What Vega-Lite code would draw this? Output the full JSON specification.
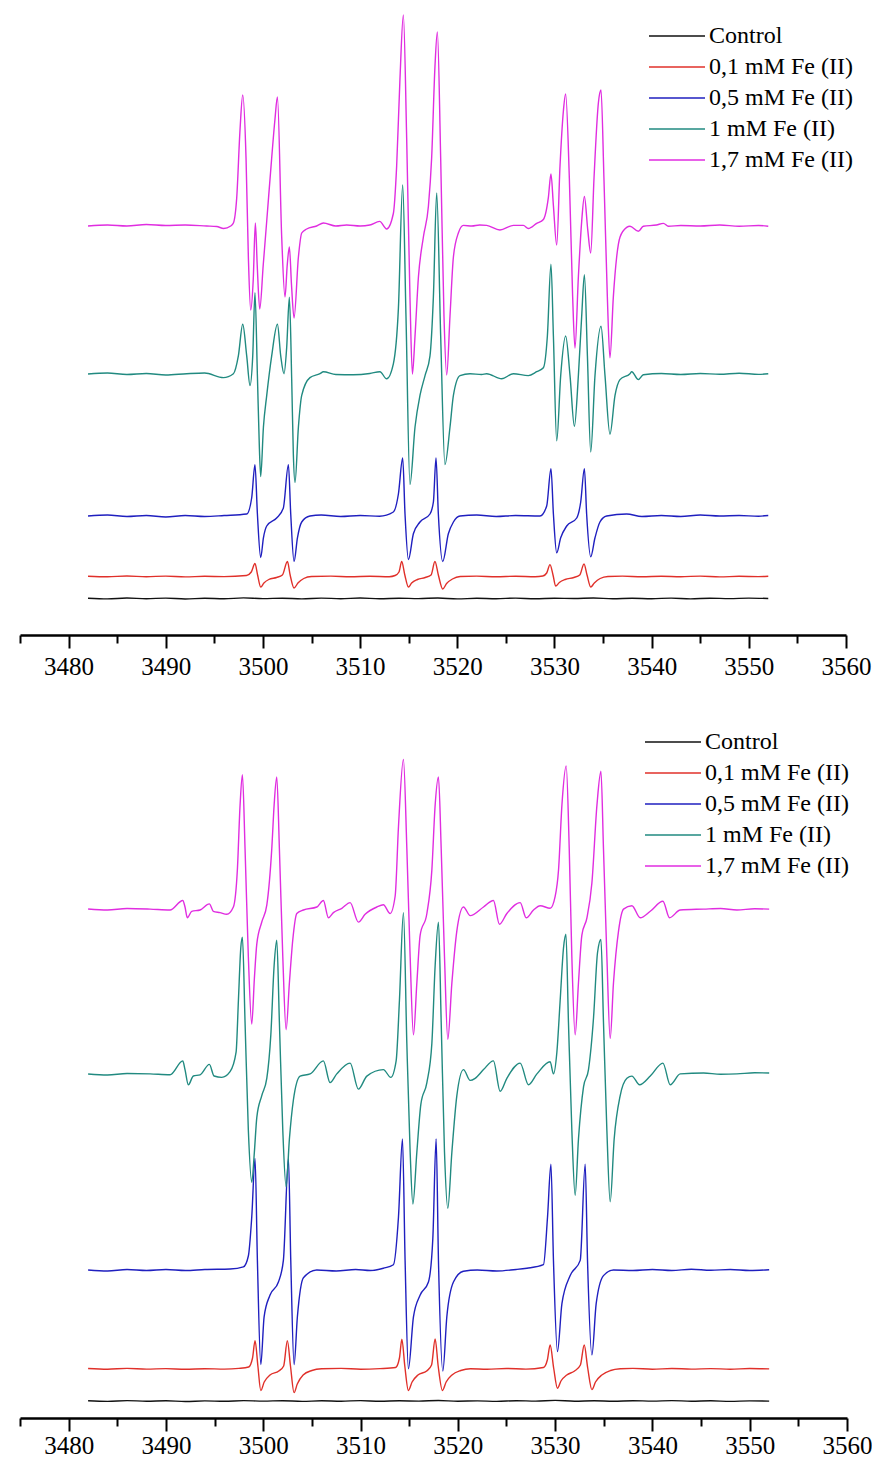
{
  "$schema": "https://vega.github.io/schema/vega-lite/v6.json",
  "background": "white",
  "padding": {"left": 13, "top": 0, "right": 0, "bottom": 0},
  "config": {"view": {"stroke": null}, "font": "Liberation Serif"},
  "spacing": 21,
  "align": "none",
  "resolve": {"legend": {"color": "independent"}, "scale": {"x": "independent", "y": "independent"}},
  "datasets": {
    "top": [
      {"s":"Control","x":3482,"y":36.8},{"s":"Control","x":3484,"y":36.1},{"s":"Control","x":3486,"y":37},{"s":"Control","x":3488,"y":36.3},{"s":"Control","x":3490,"y":36.9},{"s":"Control","x":3492,"y":36},{"s":"Control","x":3494,"y":36.7},{"s":"Control","x":3496,"y":36.2},{"s":"Control","x":3498,"y":37.1},{"s":"Control","x":3500,"y":36.4},{"s":"Control","x":3502,"y":36.8},{"s":"Control","x":3504,"y":36.1},{"s":"Control","x":3506,"y":36.9},{"s":"Control","x":3508,"y":36.3},{"s":"Control","x":3510,"y":37},{"s":"Control","x":3512,"y":36.2},{"s":"Control","x":3514,"y":36.8},{"s":"Control","x":3516,"y":36.4},{"s":"Control","x":3518,"y":37},{"s":"Control","x":3520,"y":36.1},{"s":"Control","x":3522,"y":36.7},{"s":"Control","x":3524,"y":36.3},{"s":"Control","x":3526,"y":36.9},{"s":"Control","x":3528,"y":36.2},{"s":"Control","x":3530,"y":36.8},{"s":"Control","x":3532,"y":36.5},{"s":"Control","x":3534,"y":37},{"s":"Control","x":3536,"y":36.2},{"s":"Control","x":3538,"y":36.7},{"s":"Control","x":3540,"y":36.3},{"s":"Control","x":3542,"y":36.9},{"s":"Control","x":3544,"y":36.1},{"s":"Control","x":3546,"y":36.8},{"s":"Control","x":3548,"y":36.4},{"s":"Control","x":3550,"y":36.9},{"s":"Control","x":3552,"y":36.5},

      {"s":"0,1 mM Fe (II)","x":3482,"y":58.8},{"s":"0,1 mM Fe (II)","x":3484,"y":58.2},{"s":"0,1 mM Fe (II)","x":3486,"y":59},{"s":"0,1 mM Fe (II)","x":3488,"y":58.3},{"s":"0,1 mM Fe (II)","x":3490,"y":58.9},{"s":"0,1 mM Fe (II)","x":3492,"y":58.1},{"s":"0,1 mM Fe (II)","x":3494,"y":58.7},{"s":"0,1 mM Fe (II)","x":3496,"y":58.4},{"s":"0,1 mM Fe (II)","x":3498.3,"y":59.5},{"s":"0,1 mM Fe (II)","x":3498.8,"y":63},{"s":"0,1 mM Fe (II)","x":3499.18,"y":71.5},{"s":"0,1 mM Fe (II)","x":3499.45,"y":60},{"s":"0,1 mM Fe (II)","x":3499.77,"y":48},{"s":"0,1 mM Fe (II)","x":3500.1,"y":52},{"s":"0,1 mM Fe (II)","x":3500.6,"y":55.5},{"s":"0,1 mM Fe (II)","x":3501.4,"y":57.5},{"s":"0,1 mM Fe (II)","x":3502.0,"y":60},{"s":"0,1 mM Fe (II)","x":3502.52,"y":73.5},{"s":"0,1 mM Fe (II)","x":3502.8,"y":60},{"s":"0,1 mM Fe (II)","x":3503.2,"y":47},{"s":"0,1 mM Fe (II)","x":3503.6,"y":52},{"s":"0,1 mM Fe (II)","x":3504.2,"y":56.5},{"s":"0,1 mM Fe (II)","x":3505,"y":58.5},{"s":"0,1 mM Fe (II)","x":3507,"y":58.9},{"s":"0,1 mM Fe (II)","x":3509,"y":58.2},{"s":"0,1 mM Fe (II)","x":3511,"y":58.8},{"s":"0,1 mM Fe (II)","x":3513,"y":58.3},{"s":"0,1 mM Fe (II)","x":3513.6,"y":59.5},{"s":"0,1 mM Fe (II)","x":3514.0,"y":63},{"s":"0,1 mM Fe (II)","x":3514.28,"y":73.5},{"s":"0,1 mM Fe (II)","x":3514.6,"y":60},{"s":"0,1 mM Fe (II)","x":3514.97,"y":48},{"s":"0,1 mM Fe (II)","x":3515.3,"y":52},{"s":"0,1 mM Fe (II)","x":3515.9,"y":55.5},{"s":"0,1 mM Fe (II)","x":3516.7,"y":57.5},{"s":"0,1 mM Fe (II)","x":3517.3,"y":60},{"s":"0,1 mM Fe (II)","x":3517.7,"y":73.5},{"s":"0,1 mM Fe (II)","x":3518.05,"y":60},{"s":"0,1 mM Fe (II)","x":3518.5,"y":46},{"s":"0,1 mM Fe (II)","x":3518.9,"y":51.5},{"s":"0,1 mM Fe (II)","x":3519.5,"y":56},{"s":"0,1 mM Fe (II)","x":3520.3,"y":58.5},{"s":"0,1 mM Fe (II)","x":3522,"y":58.9},{"s":"0,1 mM Fe (II)","x":3524,"y":58.2},{"s":"0,1 mM Fe (II)","x":3526,"y":58.8},{"s":"0,1 mM Fe (II)","x":3528,"y":58.3},{"s":"0,1 mM Fe (II)","x":3528.8,"y":59},{"s":"0,1 mM Fe (II)","x":3529.2,"y":62},{"s":"0,1 mM Fe (II)","x":3529.54,"y":70.4},{"s":"0,1 mM Fe (II)","x":3529.85,"y":60},{"s":"0,1 mM Fe (II)","x":3530.12,"y":49},{"s":"0,1 mM Fe (II)","x":3530.5,"y":52.5},{"s":"0,1 mM Fe (II)","x":3531.1,"y":55.5},{"s":"0,1 mM Fe (II)","x":3532.0,"y":57.5},{"s":"0,1 mM Fe (II)","x":3532.6,"y":60},{"s":"0,1 mM Fe (II)","x":3533.04,"y":71},{"s":"0,1 mM Fe (II)","x":3533.35,"y":60},{"s":"0,1 mM Fe (II)","x":3533.73,"y":48},{"s":"0,1 mM Fe (II)","x":3534.1,"y":52},{"s":"0,1 mM Fe (II)","x":3534.7,"y":56.5},{"s":"0,1 mM Fe (II)","x":3535.5,"y":58.5},{"s":"0,1 mM Fe (II)","x":3537,"y":58.9},{"s":"0,1 mM Fe (II)","x":3539,"y":58.2},{"s":"0,1 mM Fe (II)","x":3541,"y":58.8},{"s":"0,1 mM Fe (II)","x":3543,"y":58.3},{"s":"0,1 mM Fe (II)","x":3545,"y":58.9},{"s":"0,1 mM Fe (II)","x":3547,"y":58.1},{"s":"0,1 mM Fe (II)","x":3549,"y":58.7},{"s":"0,1 mM Fe (II)","x":3551,"y":58.4},{"s":"0,1 mM Fe (II)","x":3552,"y":58.8},

      {"s":"0,5 mM Fe (II)","x":3482,"y":119},{"s":"0,5 mM Fe (II)","x":3484,"y":120},{"s":"0,5 mM Fe (II)","x":3486,"y":118.5},{"s":"0,5 mM Fe (II)","x":3488,"y":119.5},{"s":"0,5 mM Fe (II)","x":3490,"y":118},{"s":"0,5 mM Fe (II)","x":3492,"y":119.5},{"s":"0,5 mM Fe (II)","x":3494,"y":118.5},{"s":"0,5 mM Fe (II)","x":3496,"y":119.5},{"s":"0,5 mM Fe (II)","x":3498.33,"y":121},{"s":"0,5 mM Fe (II)","x":3498.84,"y":137},{"s":"0,5 mM Fe (II)","x":3499.18,"y":170.4},{"s":"0,5 mM Fe (II)","x":3499.43,"y":121},{"s":"0,5 mM Fe (II)","x":3499.77,"y":77.5},{"s":"0,5 mM Fe (II)","x":3500.05,"y":97.2},{"s":"0,5 mM Fe (II)","x":3500.39,"y":109},{"s":"0,5 mM Fe (II)","x":3501.41,"y":117},{"s":"0,5 mM Fe (II)","x":3502.1,"y":127},{"s":"0,5 mM Fe (II)","x":3502.62,"y":170.4},{"s":"0,5 mM Fe (II)","x":3502.86,"y":121},{"s":"0,5 mM Fe (II)","x":3503.2,"y":73.5},{"s":"0,5 mM Fe (II)","x":3503.55,"y":97.2},{"s":"0,5 mM Fe (II)","x":3503.99,"y":113},{"s":"0,5 mM Fe (II)","x":3504.84,"y":119},{"s":"0,5 mM Fe (II)","x":3506,"y":120},{"s":"0,5 mM Fe (II)","x":3508,"y":118.5},{"s":"0,5 mM Fe (II)","x":3510,"y":119.5},{"s":"0,5 mM Fe (II)","x":3512,"y":118.8},{"s":"0,5 mM Fe (II)","x":3513.42,"y":123},{"s":"0,5 mM Fe (II)","x":3513.94,"y":141},{"s":"0,5 mM Fe (II)","x":3514.38,"y":177},{"s":"0,5 mM Fe (II)","x":3514.62,"y":121},{"s":"0,5 mM Fe (II)","x":3514.97,"y":75.5},{"s":"0,5 mM Fe (II)","x":3515.48,"y":101.2},{"s":"0,5 mM Fe (II)","x":3516.16,"y":113},{"s":"0,5 mM Fe (II)","x":3517.19,"y":121},{"s":"0,5 mM Fe (II)","x":3517.54,"y":133},{"s":"0,5 mM Fe (II)","x":3517.81,"y":177},{"s":"0,5 mM Fe (II)","x":3518.05,"y":121},{"s":"0,5 mM Fe (II)","x":3518.5,"y":73.5},{"s":"0,5 mM Fe (II)","x":3519.08,"y":101.2},{"s":"0,5 mM Fe (II)","x":3519.6,"y":113},{"s":"0,5 mM Fe (II)","x":3520.28,"y":119},{"s":"0,5 mM Fe (II)","x":3522,"y":120},{"s":"0,5 mM Fe (II)","x":3524,"y":118.5},{"s":"0,5 mM Fe (II)","x":3526,"y":119.5},{"s":"0,5 mM Fe (II)","x":3528.51,"y":119},{"s":"0,5 mM Fe (II)","x":3529.2,"y":129},{"s":"0,5 mM Fe (II)","x":3529.64,"y":166.4},{"s":"0,5 mM Fe (II)","x":3529.89,"y":121},{"s":"0,5 mM Fe (II)","x":3530.23,"y":82.2},{"s":"0,5 mM Fe (II)","x":3530.64,"y":97.2},{"s":"0,5 mM Fe (II)","x":3531.26,"y":109},{"s":"0,5 mM Fe (II)","x":3532.29,"y":117},{"s":"0,5 mM Fe (II)","x":3532.7,"y":133},{"s":"0,5 mM Fe (II)","x":3533.08,"y":166.4},{"s":"0,5 mM Fe (II)","x":3533.31,"y":121},{"s":"0,5 mM Fe (II)","x":3533.73,"y":78.3},{"s":"0,5 mM Fe (II)","x":3534.17,"y":97.2},{"s":"0,5 mM Fe (II)","x":3534.68,"y":113},{"s":"0,5 mM Fe (II)","x":3535.37,"y":119},{"s":"0,5 mM Fe (II)","x":3537.43,"y":121},{"s":"0,5 mM Fe (II)","x":3539,"y":118.5},{"s":"0,5 mM Fe (II)","x":3541,"y":119.5},{"s":"0,5 mM Fe (II)","x":3543,"y":118.5},{"s":"0,5 mM Fe (II)","x":3545,"y":120},{"s":"0,5 mM Fe (II)","x":3547,"y":119},{"s":"0,5 mM Fe (II)","x":3549,"y":119.5},{"s":"0,5 mM Fe (II)","x":3551,"y":118.8},{"s":"0,5 mM Fe (II)","x":3552,"y":119.5},

      {"s":"1 mM Fe (II)","x":3482,"y":261},{"s":"1 mM Fe (II)","x":3484,"y":262},{"s":"1 mM Fe (II)","x":3486,"y":260.5},{"s":"1 mM Fe (II)","x":3488,"y":261.5},{"s":"1 mM Fe (II)","x":3490,"y":260},{"s":"1 mM Fe (II)","x":3492.15,"y":261.3},{"s":"1 mM Fe (II)","x":3494,"y":262},{"s":"1 mM Fe (II)","x":3495.93,"y":257.4},{"s":"1 mM Fe (II)","x":3496.96,"y":261.3},{"s":"1 mM Fe (II)","x":3497.47,"y":279.1},{"s":"1 mM Fe (II)","x":3497.92,"y":310.8},{"s":"1 mM Fe (II)","x":3498.33,"y":279.1},{"s":"1 mM Fe (II)","x":3498.67,"y":249.5},{"s":"1 mM Fe (II)","x":3498.95,"y":279.1},{"s":"1 mM Fe (II)","x":3499.18,"y":342.4},{"s":"1 mM Fe (II)","x":3499.43,"y":259.4},{"s":"1 mM Fe (II)","x":3499.63,"y":188.2},{"s":"1 mM Fe (II)","x":3499.77,"y":158.5},{"s":"1 mM Fe (II)","x":3500.05,"y":208},{"s":"1 mM Fe (II)","x":3500.39,"y":239.6},{"s":"1 mM Fe (II)","x":3500.9,"y":279.1},{"s":"1 mM Fe (II)","x":3501.49,"y":310.8},{"s":"1 mM Fe (II)","x":3501.83,"y":279.1},{"s":"1 mM Fe (II)","x":3502.17,"y":261.3},{"s":"1 mM Fe (II)","x":3502.44,"y":287},{"s":"1 mM Fe (II)","x":3502.72,"y":337.7},{"s":"1 mM Fe (II)","x":3502.96,"y":255.4},{"s":"1 mM Fe (II)","x":3503.13,"y":180.3},{"s":"1 mM Fe (II)","x":3503.3,"y":152.6},{"s":"1 mM Fe (II)","x":3503.65,"y":208},{"s":"1 mM Fe (II)","x":3503.99,"y":239.6},{"s":"1 mM Fe (II)","x":3504.84,"y":257.4},{"s":"1 mM Fe (II)","x":3505.87,"y":261.3},{"s":"1 mM Fe (II)","x":3506.22,"y":263.3},{"s":"1 mM Fe (II)","x":3507.5,"y":260.5},{"s":"1 mM Fe (II)","x":3509.31,"y":260.2},{"s":"1 mM Fe (II)","x":3511,"y":261.5},{"s":"1 mM Fe (II)","x":3512.04,"y":263.3},{"s":"1 mM Fe (II)","x":3512.73,"y":256.2},{"s":"1 mM Fe (II)","x":3513.42,"y":271.2},{"s":"1 mM Fe (II)","x":3513.94,"y":326.6},{"s":"1 mM Fe (II)","x":3514.38,"y":450},{"s":"1 mM Fe (II)","x":3514.72,"y":318.7},{"s":"1 mM Fe (II)","x":3515.13,"y":150.6},{"s":"1 mM Fe (II)","x":3515.65,"y":208},{"s":"1 mM Fe (II)","x":3516.16,"y":239.6},{"s":"1 mM Fe (II)","x":3516.68,"y":259.4},{"s":"1 mM Fe (II)","x":3517.19,"y":279.1},{"s":"1 mM Fe (II)","x":3517.54,"y":338.4},{"s":"1 mM Fe (II)","x":3517.88,"y":442},{"s":"1 mM Fe (II)","x":3518.29,"y":299},{"s":"1 mM Fe (II)","x":3518.73,"y":170.4},{"s":"1 mM Fe (II)","x":3519.25,"y":208},{"s":"1 mM Fe (II)","x":3519.6,"y":239.6},{"s":"1 mM Fe (II)","x":3520.28,"y":259.4},{"s":"1 mM Fe (II)","x":3521.31,"y":261.3},{"s":"1 mM Fe (II)","x":3522.5,"y":260.5},{"s":"1 mM Fe (II)","x":3523.02,"y":261.3},{"s":"1 mM Fe (II)","x":3524.57,"y":256.2},{"s":"1 mM Fe (II)","x":3525.77,"y":261.3},{"s":"1 mM Fe (II)","x":3527.31,"y":259.4},{"s":"1 mM Fe (II)","x":3528.17,"y":263.3},{"s":"1 mM Fe (II)","x":3528.86,"y":267.3},{"s":"1 mM Fe (II)","x":3529.27,"y":299},{"s":"1 mM Fe (II)","x":3529.64,"y":370.9},{"s":"1 mM Fe (II)","x":3529.89,"y":299},{"s":"1 mM Fe (II)","x":3530.23,"y":194.1},{"s":"1 mM Fe (II)","x":3530.64,"y":259.4},{"s":"1 mM Fe (II)","x":3531.15,"y":299},{"s":"1 mM Fe (II)","x":3531.6,"y":259.4},{"s":"1 mM Fe (II)","x":3532.05,"y":208.7},{"s":"1 mM Fe (II)","x":3532.46,"y":259.4},{"s":"1 mM Fe (II)","x":3532.8,"y":318.7},{"s":"1 mM Fe (II)","x":3533.08,"y":360.2},{"s":"1 mM Fe (II)","x":3533.39,"y":279.1},{"s":"1 mM Fe (II)","x":3533.73,"y":183},{"s":"1 mM Fe (II)","x":3534.17,"y":259.4},{"s":"1 mM Fe (II)","x":3534.79,"y":308.8},{"s":"1 mM Fe (II)","x":3535.2,"y":259.4},{"s":"1 mM Fe (II)","x":3535.71,"y":200.8},{"s":"1 mM Fe (II)","x":3536.23,"y":239.6},{"s":"1 mM Fe (II)","x":3536.74,"y":255.4},{"s":"1 mM Fe (II)","x":3537.77,"y":261.3},{"s":"1 mM Fe (II)","x":3537.95,"y":263.3},{"s":"1 mM Fe (II)","x":3538.63,"y":255.4},{"s":"1 mM Fe (II)","x":3539.15,"y":260.2},{"s":"1 mM Fe (II)","x":3541,"y":261.5},{"s":"1 mM Fe (II)","x":3543,"y":260.5},{"s":"1 mM Fe (II)","x":3545,"y":261.5},{"s":"1 mM Fe (II)","x":3547,"y":260.8},{"s":"1 mM Fe (II)","x":3549,"y":261.8},{"s":"1 mM Fe (II)","x":3551,"y":260.6},{"s":"1 mM Fe (II)","x":3552,"y":261.3},

      {"s":"1,7 mM Fe (II)","x":3482,"y":409},{"s":"1,7 mM Fe (II)","x":3484,"y":410},{"s":"1,7 mM Fe (II)","x":3486,"y":409},{"s":"1,7 mM Fe (II)","x":3488,"y":410.5},{"s":"1,7 mM Fe (II)","x":3490,"y":409.5},{"s":"1,7 mM Fe (II)","x":3492,"y":410},{"s":"1,7 mM Fe (II)","x":3494.21,"y":409},{"s":"1,7 mM Fe (II)","x":3495.24,"y":408.5},{"s":"1,7 mM Fe (II)","x":3495.96,"y":406.5},{"s":"1,7 mM Fe (II)","x":3496.68,"y":409},{"s":"1,7 mM Fe (II)","x":3496.96,"y":412},{"s":"1,7 mM Fe (II)","x":3497.3,"y":437},{"s":"1,7 mM Fe (II)","x":3497.64,"y":505},{"s":"1,7 mM Fe (II)","x":3497.92,"y":540},{"s":"1,7 mM Fe (II)","x":3498.26,"y":477},{"s":"1,7 mM Fe (II)","x":3498.5,"y":378},{"s":"1,7 mM Fe (II)","x":3498.74,"y":325},{"s":"1,7 mM Fe (II)","x":3499,"y":355},{"s":"1,7 mM Fe (II)","x":3499.22,"y":412},{"s":"1,7 mM Fe (II)","x":3499.41,"y":370},{"s":"1,7 mM Fe (II)","x":3499.67,"y":326},{"s":"1,7 mM Fe (II)","x":3500.03,"y":370},{"s":"1,7 mM Fe (II)","x":3500.39,"y":414},{"s":"1,7 mM Fe (II)","x":3500.9,"y":477},{"s":"1,7 mM Fe (II)","x":3501.24,"y":516},{"s":"1,7 mM Fe (II)","x":3501.49,"y":538},{"s":"1,7 mM Fe (II)","x":3501.93,"y":398},{"s":"1,7 mM Fe (II)","x":3502.27,"y":338},{"s":"1,7 mM Fe (II)","x":3502.5,"y":370},{"s":"1,7 mM Fe (II)","x":3502.72,"y":388},{"s":"1,7 mM Fe (II)","x":3502.94,"y":350},{"s":"1,7 mM Fe (II)","x":3503.2,"y":317},{"s":"1,7 mM Fe (II)","x":3503.65,"y":378},{"s":"1,7 mM Fe (II)","x":3503.99,"y":402},{"s":"1,7 mM Fe (II)","x":3504.5,"y":406},{"s":"1,7 mM Fe (II)","x":3505.53,"y":409},{"s":"1,7 mM Fe (II)","x":3506.22,"y":412},{"s":"1,7 mM Fe (II)","x":3507.5,"y":409},{"s":"1,7 mM Fe (II)","x":3508.62,"y":410},{"s":"1,7 mM Fe (II)","x":3510,"y":409},{"s":"1,7 mM Fe (II)","x":3511,"y":410},{"s":"1,7 mM Fe (II)","x":3512.01,"y":413.6},{"s":"1,7 mM Fe (II)","x":3512.73,"y":406},{"s":"1,7 mM Fe (II)","x":3513.42,"y":421.5},{"s":"1,7 mM Fe (II)","x":3513.76,"y":469},{"s":"1,7 mM Fe (II)","x":3514.1,"y":556},{"s":"1,7 mM Fe (II)","x":3514.45,"y":620},{"s":"1,7 mM Fe (II)","x":3514.79,"y":497},{"s":"1,7 mM Fe (II)","x":3515.13,"y":338},{"s":"1,7 mM Fe (II)","x":3515.38,"y":261},{"s":"1,7 mM Fe (II)","x":3515.65,"y":299},{"s":"1,7 mM Fe (II)","x":3516,"y":358},{"s":"1,7 mM Fe (II)","x":3516.51,"y":398},{"s":"1,7 mM Fe (II)","x":3517.03,"y":429},{"s":"1,7 mM Fe (II)","x":3517.36,"y":477},{"s":"1,7 mM Fe (II)","x":3517.7,"y":568},{"s":"1,7 mM Fe (II)","x":3517.95,"y":603},{"s":"1,7 mM Fe (II)","x":3518.29,"y":477},{"s":"1,7 mM Fe (II)","x":3518.63,"y":319},{"s":"1,7 mM Fe (II)","x":3518.91,"y":260},{"s":"1,7 mM Fe (II)","x":3519.25,"y":319},{"s":"1,7 mM Fe (II)","x":3519.6,"y":378},{"s":"1,7 mM Fe (II)","x":3520.11,"y":402},{"s":"1,7 mM Fe (II)","x":3520.63,"y":409.6},{"s":"1,7 mM Fe (II)","x":3521.5,"y":409},{"s":"1,7 mM Fe (II)","x":3522.3,"y":410},{"s":"1,7 mM Fe (II)","x":3523.02,"y":409.6},{"s":"1,7 mM Fe (II)","x":3524.39,"y":405},{"s":"1,7 mM Fe (II)","x":3525.77,"y":409.6},{"s":"1,7 mM Fe (II)","x":3526.8,"y":409.6},{"s":"1,7 mM Fe (II)","x":3527.31,"y":406.5},{"s":"1,7 mM Fe (II)","x":3528.17,"y":411.6},{"s":"1,7 mM Fe (II)","x":3528.86,"y":415.5},{"s":"1,7 mM Fe (II)","x":3529.37,"y":437.3},{"s":"1,7 mM Fe (II)","x":3529.64,"y":461},{"s":"1,7 mM Fe (II)","x":3529.89,"y":429.4},{"s":"1,7 mM Fe (II)","x":3530.23,"y":390},{"s":"1,7 mM Fe (II)","x":3530.57,"y":469},{"s":"1,7 mM Fe (II)","x":3530.92,"y":524.3},{"s":"1,7 mM Fe (II)","x":3531.15,"y":541},{"s":"1,7 mM Fe (II)","x":3531.53,"y":457},{"s":"1,7 mM Fe (II)","x":3531.87,"y":338.4},{"s":"1,7 mM Fe (II)","x":3532.11,"y":287},{"s":"1,7 mM Fe (II)","x":3532.46,"y":358.2},{"s":"1,7 mM Fe (II)","x":3532.8,"y":413.6},{"s":"1,7 mM Fe (II)","x":3533.08,"y":438.5},{"s":"1,7 mM Fe (II)","x":3533.42,"y":405.7},{"s":"1,7 mM Fe (II)","x":3533.73,"y":382},{"s":"1,7 mM Fe (II)","x":3534.07,"y":457},{"s":"1,7 mM Fe (II)","x":3534.52,"y":532.2},{"s":"1,7 mM Fe (II)","x":3534.79,"y":545},{"s":"1,7 mM Fe (II)","x":3535.09,"y":457},{"s":"1,7 mM Fe (II)","x":3535.44,"y":338.4},{"s":"1,7 mM Fe (II)","x":3535.71,"y":277.1},{"s":"1,7 mM Fe (II)","x":3536.06,"y":338.4},{"s":"1,7 mM Fe (II)","x":3536.4,"y":378},{"s":"1,7 mM Fe (II)","x":3536.74,"y":397.8},{"s":"1,7 mM Fe (II)","x":3537.43,"y":407.6},{"s":"1,7 mM Fe (II)","x":3537.77,"y":408.8},{"s":"1,7 mM Fe (II)","x":3538.63,"y":403.7},{"s":"1,7 mM Fe (II)","x":3539.15,"y":408.8},{"s":"1,7 mM Fe (II)","x":3540.5,"y":410},{"s":"1,7 mM Fe (II)","x":3541.21,"y":411.6},{"s":"1,7 mM Fe (II)","x":3541.72,"y":408.8},{"s":"1,7 mM Fe (II)","x":3543,"y":409.5},{"s":"1,7 mM Fe (II)","x":3545,"y":409},{"s":"1,7 mM Fe (II)","x":3547,"y":410},{"s":"1,7 mM Fe (II)","x":3549,"y":408.8},{"s":"1,7 mM Fe (II)","x":3551,"y":409.5},{"s":"1,7 mM Fe (II)","x":3552,"y":408.8}
    ],
    "bottom": [
      {"s":"Control","x":3482,"y":17.2},{"s":"Control","x":3484,"y":16.6},{"s":"Control","x":3486,"y":17.4},{"s":"Control","x":3488,"y":16.8},{"s":"Control","x":3490,"y":17.3},{"s":"Control","x":3492,"y":16.5},{"s":"Control","x":3494,"y":17.1},{"s":"Control","x":3496,"y":16.7},{"s":"Control","x":3498,"y":17.4},{"s":"Control","x":3500,"y":16.9},{"s":"Control","x":3502,"y":17.3},{"s":"Control","x":3504,"y":16.6},{"s":"Control","x":3506,"y":17.2},{"s":"Control","x":3508,"y":16.8},{"s":"Control","x":3510,"y":17.4},{"s":"Control","x":3512,"y":16.7},{"s":"Control","x":3514,"y":17.2},{"s":"Control","x":3516,"y":16.9},{"s":"Control","x":3518,"y":17.5},{"s":"Control","x":3520,"y":16.8},{"s":"Control","x":3522,"y":17.1},{"s":"Control","x":3524,"y":16.6},{"s":"Control","x":3526,"y":17.3},{"s":"Control","x":3528,"y":16.9},{"s":"Control","x":3530,"y":17.6},{"s":"Control","x":3532,"y":16.8},{"s":"Control","x":3534,"y":17.2},{"s":"Control","x":3536,"y":16.7},{"s":"Control","x":3538,"y":17.3},{"s":"Control","x":3540,"y":16.9},{"s":"Control","x":3542,"y":17.4},{"s":"Control","x":3544,"y":16.8},{"s":"Control","x":3546,"y":17.2},{"s":"Control","x":3548,"y":16.6},{"s":"Control","x":3550,"y":17.1},{"s":"Control","x":3552,"y":16.9},

      {"s":"0,1 mM Fe (II)","x":3482,"y":49.5},{"s":"0,1 mM Fe (II)","x":3484,"y":48.8},{"s":"0,1 mM Fe (II)","x":3486,"y":49.6},{"s":"0,1 mM Fe (II)","x":3488,"y":48.9},{"s":"0,1 mM Fe (II)","x":3490,"y":49.4},{"s":"0,1 mM Fe (II)","x":3492,"y":48.7},{"s":"0,1 mM Fe (II)","x":3494,"y":49.3},{"s":"0,1 mM Fe (II)","x":3496,"y":48.9},{"s":"0,1 mM Fe (II)","x":3497.5,"y":49.6},{"s":"0,1 mM Fe (II)","x":3498.5,"y":51},{"s":"0,1 mM Fe (II)","x":3498.9,"y":60},{"s":"0,1 mM Fe (II)","x":3499.16,"y":77.4},{"s":"0,1 mM Fe (II)","x":3499.45,"y":52},{"s":"0,1 mM Fe (II)","x":3499.75,"y":27.5},{"s":"0,1 mM Fe (II)","x":3500.1,"y":36},{"s":"0,1 mM Fe (II)","x":3500.7,"y":43},{"s":"0,1 mM Fe (II)","x":3501.6,"y":47},{"s":"0,1 mM Fe (II)","x":3502.1,"y":52},{"s":"0,1 mM Fe (II)","x":3502.48,"y":77.4},{"s":"0,1 mM Fe (II)","x":3502.8,"y":52},{"s":"0,1 mM Fe (II)","x":3503.17,"y":25.4},{"s":"0,1 mM Fe (II)","x":3503.5,"y":34},{"s":"0,1 mM Fe (II)","x":3504.1,"y":43},{"s":"0,1 mM Fe (II)","x":3505,"y":47.5},{"s":"0,1 mM Fe (II)","x":3506,"y":49.2},{"s":"0,1 mM Fe (II)","x":3508,"y":49.6},{"s":"0,1 mM Fe (II)","x":3510,"y":48.8},{"s":"0,1 mM Fe (II)","x":3512,"y":49.4},{"s":"0,1 mM Fe (II)","x":3513.6,"y":50.5},{"s":"0,1 mM Fe (II)","x":3514,"y":60},{"s":"0,1 mM Fe (II)","x":3514.25,"y":78.7},{"s":"0,1 mM Fe (II)","x":3514.55,"y":52},{"s":"0,1 mM Fe (II)","x":3514.92,"y":27.5},{"s":"0,1 mM Fe (II)","x":3515.3,"y":36},{"s":"0,1 mM Fe (II)","x":3515.9,"y":43},{"s":"0,1 mM Fe (II)","x":3516.8,"y":47},{"s":"0,1 mM Fe (II)","x":3517.3,"y":53},{"s":"0,1 mM Fe (II)","x":3517.67,"y":79},{"s":"0,1 mM Fe (II)","x":3517.98,"y":52},{"s":"0,1 mM Fe (II)","x":3518.42,"y":27.5},{"s":"0,1 mM Fe (II)","x":3518.8,"y":36},{"s":"0,1 mM Fe (II)","x":3519.4,"y":43},{"s":"0,1 mM Fe (II)","x":3520.3,"y":47.5},{"s":"0,1 mM Fe (II)","x":3521.3,"y":49.3},{"s":"0,1 mM Fe (II)","x":3523,"y":48.8},{"s":"0,1 mM Fe (II)","x":3525,"y":49.5},{"s":"0,1 mM Fe (II)","x":3527,"y":48.9},{"s":"0,1 mM Fe (II)","x":3528.8,"y":50.5},{"s":"0,1 mM Fe (II)","x":3529.2,"y":58},{"s":"0,1 mM Fe (II)","x":3529.49,"y":73},{"s":"0,1 mM Fe (II)","x":3529.85,"y":50},{"s":"0,1 mM Fe (II)","x":3530.24,"y":29.7},{"s":"0,1 mM Fe (II)","x":3530.6,"y":37},{"s":"0,1 mM Fe (II)","x":3531.2,"y":43},{"s":"0,1 mM Fe (II)","x":3532,"y":47},{"s":"0,1 mM Fe (II)","x":3532.6,"y":53},{"s":"0,1 mM Fe (II)","x":3532.99,"y":73},{"s":"0,1 mM Fe (II)","x":3533.35,"y":50},{"s":"0,1 mM Fe (II)","x":3533.78,"y":28.4},{"s":"0,1 mM Fe (II)","x":3534.15,"y":36},{"s":"0,1 mM Fe (II)","x":3534.8,"y":43},{"s":"0,1 mM Fe (II)","x":3535.7,"y":47.5},{"s":"0,1 mM Fe (II)","x":3536.7,"y":49.2},{"s":"0,1 mM Fe (II)","x":3538,"y":49.6},{"s":"0,1 mM Fe (II)","x":3540,"y":48.8},{"s":"0,1 mM Fe (II)","x":3542,"y":49.5},{"s":"0,1 mM Fe (II)","x":3544,"y":48.9},{"s":"0,1 mM Fe (II)","x":3546,"y":49.4},{"s":"0,1 mM Fe (II)","x":3548,"y":48.8},{"s":"0,1 mM Fe (II)","x":3550,"y":49.5},{"s":"0,1 mM Fe (II)","x":3552,"y":49.1},

      {"s":"0,5 mM Fe (II)","x":3482,"y":148},{"s":"0,5 mM Fe (II)","x":3484,"y":147},{"s":"0,5 mM Fe (II)","x":3486,"y":148.5},{"s":"0,5 mM Fe (II)","x":3488,"y":147.5},{"s":"0,5 mM Fe (II)","x":3490,"y":148.5},{"s":"0,5 mM Fe (II)","x":3492,"y":147.5},{"s":"0,5 mM Fe (II)","x":3494,"y":148.5},{"s":"0,5 mM Fe (II)","x":3496.59,"y":149},{"s":"0,5 mM Fe (II)","x":3497.96,"y":151.1},{"s":"0,5 mM Fe (II)","x":3498.47,"y":162},{"s":"0,5 mM Fe (II)","x":3498.82,"y":201},{"s":"0,5 mM Fe (II)","x":3499.16,"y":259.5},{"s":"0,5 mM Fe (II)","x":3499.4,"y":157.6},{"s":"0,5 mM Fe (II)","x":3499.75,"y":53.5},{"s":"0,5 mM Fe (II)","x":3500.09,"y":101.2},{"s":"0,5 mM Fe (II)","x":3500.7,"y":123},{"s":"0,5 mM Fe (II)","x":3501.56,"y":136},{"s":"0,5 mM Fe (II)","x":3502.07,"y":157.6},{"s":"0,5 mM Fe (II)","x":3502.59,"y":259.5},{"s":"0,5 mM Fe (II)","x":3502.83,"y":157.6},{"s":"0,5 mM Fe (II)","x":3503.17,"y":53.5},{"s":"0,5 mM Fe (II)","x":3503.51,"y":101.2},{"s":"0,5 mM Fe (II)","x":3504.13,"y":140.3},{"s":"0,5 mM Fe (II)","x":3505.51,"y":148},{"s":"0,5 mM Fe (II)","x":3507.5,"y":147},{"s":"0,5 mM Fe (II)","x":3509.5,"y":148.5},{"s":"0,5 mM Fe (II)","x":3511,"y":147.5},{"s":"0,5 mM Fe (II)","x":3512.35,"y":149.8},{"s":"0,5 mM Fe (II)","x":3513.38,"y":153.3},{"s":"0,5 mM Fe (II)","x":3513.9,"y":201},{"s":"0,5 mM Fe (II)","x":3514.31,"y":279},{"s":"0,5 mM Fe (II)","x":3514.58,"y":157.6},{"s":"0,5 mM Fe (II)","x":3514.92,"y":49.2},{"s":"0,5 mM Fe (II)","x":3515.44,"y":101.2},{"s":"0,5 mM Fe (II)","x":3516.13,"y":123},{"s":"0,5 mM Fe (II)","x":3516.98,"y":136},{"s":"0,5 mM Fe (II)","x":3517.43,"y":179.3},{"s":"0,5 mM Fe (II)","x":3517.77,"y":279},{"s":"0,5 mM Fe (II)","x":3518.01,"y":157.6},{"s":"0,5 mM Fe (II)","x":3518.46,"y":47},{"s":"0,5 mM Fe (II)","x":3518.87,"y":101.2},{"s":"0,5 mM Fe (II)","x":3519.55,"y":136},{"s":"0,5 mM Fe (II)","x":3520.58,"y":146.8},{"s":"0,5 mM Fe (II)","x":3522,"y":148},{"s":"0,5 mM Fe (II)","x":3524,"y":147},{"s":"0,5 mM Fe (II)","x":3526,"y":148.5},{"s":"0,5 mM Fe (II)","x":3527.1,"y":149.8},{"s":"0,5 mM Fe (II)","x":3528.8,"y":153.3},{"s":"0,5 mM Fe (II)","x":3529.22,"y":201},{"s":"0,5 mM Fe (II)","x":3529.57,"y":253.9},{"s":"0,5 mM Fe (II)","x":3529.83,"y":157.6},{"s":"0,5 mM Fe (II)","x":3530.24,"y":66.5},{"s":"0,5 mM Fe (II)","x":3530.7,"y":114.3},{"s":"0,5 mM Fe (II)","x":3531.55,"y":142.4},{"s":"0,5 mM Fe (II)","x":3532.58,"y":157.6},{"s":"0,5 mM Fe (II)","x":3533.09,"y":253.9},{"s":"0,5 mM Fe (II)","x":3533.33,"y":157.6},{"s":"0,5 mM Fe (II)","x":3533.78,"y":63.1},{"s":"0,5 mM Fe (II)","x":3534.22,"y":114.3},{"s":"0,5 mM Fe (II)","x":3534.97,"y":142.4},{"s":"0,5 mM Fe (II)","x":3536,"y":148},{"s":"0,5 mM Fe (II)","x":3538,"y":147.5},{"s":"0,5 mM Fe (II)","x":3540,"y":148.5},{"s":"0,5 mM Fe (II)","x":3542,"y":147.5},{"s":"0,5 mM Fe (II)","x":3544,"y":148.8},{"s":"0,5 mM Fe (II)","x":3546,"y":147.8},{"s":"0,5 mM Fe (II)","x":3548,"y":148.5},{"s":"0,5 mM Fe (II)","x":3550,"y":147.5},{"s":"0,5 mM Fe (II)","x":3552,"y":148.2},

      {"s":"1 mM Fe (II)","x":3482,"y":344},{"s":"1 mM Fe (II)","x":3484,"y":343},{"s":"1 mM Fe (II)","x":3486,"y":344.5},{"s":"1 mM Fe (II)","x":3488.37,"y":344.1},{"s":"1 mM Fe (II)","x":3490.42,"y":343.2},{"s":"1 mM Fe (II)","x":3491.73,"y":357.1},{"s":"1 mM Fe (II)","x":3491.96,"y":348.4},{"s":"1 mM Fe (II)","x":3492.3,"y":333.2},{"s":"1 mM Fe (II)","x":3492.82,"y":342},{"s":"1 mM Fe (II)","x":3493.51,"y":343.2},{"s":"1 mM Fe (II)","x":3494.46,"y":353.6},{"s":"1 mM Fe (II)","x":3494.95,"y":342},{"s":"1 mM Fe (II)","x":3495.74,"y":340.6},{"s":"1 mM Fe (II)","x":3496.59,"y":346.3},{"s":"1 mM Fe (II)","x":3497.21,"y":365.8},{"s":"1 mM Fe (II)","x":3497.45,"y":417.8},{"s":"1 mM Fe (II)","x":3497.69,"y":469.8},{"s":"1 mM Fe (II)","x":3497.86,"y":480.7},{"s":"1 mM Fe (II)","x":3498.13,"y":396.1},{"s":"1 mM Fe (II)","x":3498.47,"y":287.7},{"s":"1 mM Fe (II)","x":3498.82,"y":235.7},{"s":"1 mM Fe (II)","x":3499.09,"y":266},{"s":"1 mM Fe (II)","x":3499.34,"y":300.7},{"s":"1 mM Fe (II)","x":3499.85,"y":322.4},{"s":"1 mM Fe (II)","x":3500.37,"y":339.8},{"s":"1 mM Fe (II)","x":3500.78,"y":383.1},{"s":"1 mM Fe (II)","x":3501.12,"y":452.5},{"s":"1 mM Fe (II)","x":3501.39,"y":477.7},{"s":"1 mM Fe (II)","x":3501.66,"y":396.1},{"s":"1 mM Fe (II)","x":3502.01,"y":287.7},{"s":"1 mM Fe (II)","x":3502.35,"y":231.3},{"s":"1 mM Fe (II)","x":3502.69,"y":279},{"s":"1 mM Fe (II)","x":3503.1,"y":318},{"s":"1 mM Fe (II)","x":3503.79,"y":341.9},{"s":"1 mM Fe (II)","x":3504.82,"y":344.1},{"s":"1 mM Fe (II)","x":3506.18,"y":357.1},{"s":"1 mM Fe (II)","x":3506.87,"y":335.4},{"s":"1 mM Fe (II)","x":3507.56,"y":344.1},{"s":"1 mM Fe (II)","x":3508.93,"y":354.9},{"s":"1 mM Fe (II)","x":3509.78,"y":328.9},{"s":"1 mM Fe (II)","x":3510.65,"y":341.9},{"s":"1 mM Fe (II)","x":3512.35,"y":348.4},{"s":"1 mM Fe (II)","x":3513.11,"y":340.6},{"s":"1 mM Fe (II)","x":3513.66,"y":357.1},{"s":"1 mM Fe (II)","x":3514,"y":417.8},{"s":"1 mM Fe (II)","x":3514.41,"y":505.4},{"s":"1 mM Fe (II)","x":3514.76,"y":374.4},{"s":"1 mM Fe (II)","x":3515.1,"y":266},{"s":"1 mM Fe (II)","x":3515.38,"y":214},{"s":"1 mM Fe (II)","x":3515.79,"y":266},{"s":"1 mM Fe (II)","x":3516.2,"y":313.7},{"s":"1 mM Fe (II)","x":3516.82,"y":335.4},{"s":"1 mM Fe (II)","x":3517.33,"y":374.4},{"s":"1 mM Fe (II)","x":3517.67,"y":452.5},{"s":"1 mM Fe (II)","x":3518.01,"y":495.9},{"s":"1 mM Fe (II)","x":3518.29,"y":396.1},{"s":"1 mM Fe (II)","x":3518.63,"y":266},{"s":"1 mM Fe (II)","x":3518.97,"y":209.7},{"s":"1 mM Fe (II)","x":3519.39,"y":266},{"s":"1 mM Fe (II)","x":3519.9,"y":322.4},{"s":"1 mM Fe (II)","x":3520.58,"y":348.4},{"s":"1 mM Fe (II)","x":3521.27,"y":337.6},{"s":"1 mM Fe (II)","x":3521.78,"y":339.7},{"s":"1 mM Fe (II)","x":3522.64,"y":348.4},{"s":"1 mM Fe (II)","x":3523.66,"y":357.1},{"s":"1 mM Fe (II)","x":3524.35,"y":326.7},{"s":"1 mM Fe (II)","x":3525.04,"y":339.7},{"s":"1 mM Fe (II)","x":3526.41,"y":354.9},{"s":"1 mM Fe (II)","x":3527.26,"y":333.2},{"s":"1 mM Fe (II)","x":3528.13,"y":344.1},{"s":"1 mM Fe (II)","x":3529.49,"y":356.2},{"s":"1 mM Fe (II)","x":3529.83,"y":344.1},{"s":"1 mM Fe (II)","x":3530.18,"y":365.8},{"s":"1 mM Fe (II)","x":3530.52,"y":417.8},{"s":"1 mM Fe (II)","x":3530.86,"y":469.8},{"s":"1 mM Fe (II)","x":3531.11,"y":483.7},{"s":"1 mM Fe (II)","x":3531.37,"y":396.1},{"s":"1 mM Fe (II)","x":3531.72,"y":287.7},{"s":"1 mM Fe (II)","x":3532.06,"y":222.7},{"s":"1 mM Fe (II)","x":3532.4,"y":279},{"s":"1 mM Fe (II)","x":3532.92,"y":331.1},{"s":"1 mM Fe (II)","x":3533.43,"y":348.4},{"s":"1 mM Fe (II)","x":3533.95,"y":400.5},{"s":"1 mM Fe (II)","x":3534.36,"y":465.5},{"s":"1 mM Fe (II)","x":3534.71,"y":478.5},{"s":"1 mM Fe (II)","x":3534.97,"y":396.1},{"s":"1 mM Fe (II)","x":3535.32,"y":287.7},{"s":"1 mM Fe (II)","x":3535.66,"y":216.2},{"s":"1 mM Fe (II)","x":3536.07,"y":279},{"s":"1 mM Fe (II)","x":3536.69,"y":322.4},{"s":"1 mM Fe (II)","x":3537.38,"y":339.7},{"s":"1 mM Fe (II)","x":3537.89,"y":341.9},{"s":"1 mM Fe (II)","x":3538.68,"y":333.2},{"s":"1 mM Fe (II)","x":3539.78,"y":341.9},{"s":"1 mM Fe (II)","x":3541.08,"y":354.9},{"s":"1 mM Fe (II)","x":3541.83,"y":333.2},{"s":"1 mM Fe (II)","x":3542.86,"y":344.1},{"s":"1 mM Fe (II)","x":3545.26,"y":345},{"s":"1 mM Fe (II)","x":3547,"y":343.8},{"s":"1 mM Fe (II)","x":3548.69,"y":344.1},{"s":"1 mM Fe (II)","x":3550.5,"y":345.2},{"s":"1 mM Fe (II)","x":3552,"y":345},

      {"s":"1,7 mM Fe (II)","x":3482,"y":509},{"s":"1,7 mM Fe (II)","x":3484,"y":508},{"s":"1,7 mM Fe (II)","x":3486,"y":509.5},{"s":"1,7 mM Fe (II)","x":3488.37,"y":508.9},{"s":"1,7 mM Fe (II)","x":3490.42,"y":508},{"s":"1,7 mM Fe (II)","x":3491.73,"y":517.5},{"s":"1,7 mM Fe (II)","x":3491.96,"y":511},{"s":"1,7 mM Fe (II)","x":3492.2,"y":500.2},{"s":"1,7 mM Fe (II)","x":3492.65,"y":506.7},{"s":"1,7 mM Fe (II)","x":3493.51,"y":508},{"s":"1,7 mM Fe (II)","x":3494.46,"y":514.1},{"s":"1,7 mM Fe (II)","x":3494.87,"y":506.7},{"s":"1,7 mM Fe (II)","x":3495.56,"y":505.4},{"s":"1,7 mM Fe (II)","x":3496.25,"y":503.7},{"s":"1,7 mM Fe (II)","x":3496.93,"y":511},{"s":"1,7 mM Fe (II)","x":3497.34,"y":548},{"s":"1,7 mM Fe (II)","x":3497.62,"y":613},{"s":"1,7 mM Fe (II)","x":3497.86,"y":643.3},{"s":"1,7 mM Fe (II)","x":3498.13,"y":569.6},{"s":"1,7 mM Fe (II)","x":3498.47,"y":461.2},{"s":"1,7 mM Fe (II)","x":3498.82,"y":394},{"s":"1,7 mM Fe (II)","x":3499.09,"y":439.5},{"s":"1,7 mM Fe (II)","x":3499.34,"y":474.2},{"s":"1,7 mM Fe (II)","x":3499.85,"y":496},{"s":"1,7 mM Fe (II)","x":3500.37,"y":513.2},{"s":"1,7 mM Fe (II)","x":3500.88,"y":569.6},{"s":"1,7 mM Fe (II)","x":3501.12,"y":613},{"s":"1,7 mM Fe (II)","x":3501.39,"y":641.1},{"s":"1,7 mM Fe (II)","x":3501.66,"y":569.6},{"s":"1,7 mM Fe (II)","x":3502.01,"y":461.2},{"s":"1,7 mM Fe (II)","x":3502.35,"y":388.3},{"s":"1,7 mM Fe (II)","x":3502.69,"y":435.2},{"s":"1,7 mM Fe (II)","x":3503.04,"y":478.5},{"s":"1,7 mM Fe (II)","x":3503.45,"y":504.5},{"s":"1,7 mM Fe (II)","x":3504.13,"y":508},{"s":"1,7 mM Fe (II)","x":3505.51,"y":511},{"s":"1,7 mM Fe (II)","x":3506.18,"y":517.5},{"s":"1,7 mM Fe (II)","x":3506.7,"y":500.2},{"s":"1,7 mM Fe (II)","x":3507.21,"y":505.4},{"s":"1,7 mM Fe (II)","x":3508.08,"y":509.7},{"s":"1,7 mM Fe (II)","x":3508.93,"y":515.4},{"s":"1,7 mM Fe (II)","x":3509.78,"y":495.9},{"s":"1,7 mM Fe (II)","x":3510.47,"y":503.7},{"s":"1,7 mM Fe (II)","x":3511.68,"y":511},{"s":"1,7 mM Fe (II)","x":3512.35,"y":513.2},{"s":"1,7 mM Fe (II)","x":3513.04,"y":504.5},{"s":"1,7 mM Fe (II)","x":3513.56,"y":522},{"s":"1,7 mM Fe (II)","x":3513.9,"y":591.3},{"s":"1,7 mM Fe (II)","x":3514.41,"y":658.5},{"s":"1,7 mM Fe (II)","x":3514.76,"y":569.6},{"s":"1,7 mM Fe (II)","x":3515.1,"y":461.2},{"s":"1,7 mM Fe (II)","x":3515.44,"y":383.1},{"s":"1,7 mM Fe (II)","x":3515.79,"y":435.2},{"s":"1,7 mM Fe (II)","x":3516.13,"y":482.9},{"s":"1,7 mM Fe (II)","x":3516.82,"y":504.5},{"s":"1,7 mM Fe (II)","x":3517.33,"y":547.9},{"s":"1,7 mM Fe (II)","x":3517.67,"y":613},{"s":"1,7 mM Fe (II)","x":3518.01,"y":641.1},{"s":"1,7 mM Fe (II)","x":3518.29,"y":569.6},{"s":"1,7 mM Fe (II)","x":3518.63,"y":461.2},{"s":"1,7 mM Fe (II)","x":3518.97,"y":378.8},{"s":"1,7 mM Fe (II)","x":3519.39,"y":435.2},{"s":"1,7 mM Fe (II)","x":3519.9,"y":487.2},{"s":"1,7 mM Fe (II)","x":3520.58,"y":511},{"s":"1,7 mM Fe (II)","x":3521.27,"y":502.4},{"s":"1,7 mM Fe (II)","x":3522.64,"y":511},{"s":"1,7 mM Fe (II)","x":3523.66,"y":517.5},{"s":"1,7 mM Fe (II)","x":3524.28,"y":493.7},{"s":"1,7 mM Fe (II)","x":3525.04,"y":504.5},{"s":"1,7 mM Fe (II)","x":3526.41,"y":515.4},{"s":"1,7 mM Fe (II)","x":3527.03,"y":500.2},{"s":"1,7 mM Fe (II)","x":3527.78,"y":508},{"s":"1,7 mM Fe (II)","x":3528.47,"y":512.3},{"s":"1,7 mM Fe (II)","x":3529.49,"y":509.7},{"s":"1,7 mM Fe (II)","x":3530.01,"y":521.9},{"s":"1,7 mM Fe (II)","x":3530.35,"y":548},{"s":"1,7 mM Fe (II)","x":3530.7,"y":613},{"s":"1,7 mM Fe (II)","x":3531.14,"y":652},{"s":"1,7 mM Fe (II)","x":3531.45,"y":569.6},{"s":"1,7 mM Fe (II)","x":3531.72,"y":461.2},{"s":"1,7 mM Fe (II)","x":3532.06,"y":383.1},{"s":"1,7 mM Fe (II)","x":3532.4,"y":435.2},{"s":"1,7 mM Fe (II)","x":3532.75,"y":482.9},{"s":"1,7 mM Fe (II)","x":3533.27,"y":500.2},{"s":"1,7 mM Fe (II)","x":3533.78,"y":535},{"s":"1,7 mM Fe (II)","x":3534.3,"y":613},{"s":"1,7 mM Fe (II)","x":3534.71,"y":646.8},{"s":"1,7 mM Fe (II)","x":3534.97,"y":569.6},{"s":"1,7 mM Fe (II)","x":3535.32,"y":461.2},{"s":"1,7 mM Fe (II)","x":3535.66,"y":379.6},{"s":"1,7 mM Fe (II)","x":3536,"y":435.2},{"s":"1,7 mM Fe (II)","x":3536.52,"y":487.2},{"s":"1,7 mM Fe (II)","x":3537.03,"y":508.9},{"s":"1,7 mM Fe (II)","x":3537.89,"y":512.3},{"s":"1,7 mM Fe (II)","x":3538.75,"y":500.2},{"s":"1,7 mM Fe (II)","x":3539.78,"y":506.7},{"s":"1,7 mM Fe (II)","x":3541.08,"y":516.7},{"s":"1,7 mM Fe (II)","x":3541.76,"y":500.2},{"s":"1,7 mM Fe (II)","x":3542.86,"y":508},{"s":"1,7 mM Fe (II)","x":3545.26,"y":508.9},{"s":"1,7 mM Fe (II)","x":3547,"y":509.5},{"s":"1,7 mM Fe (II)","x":3548.69,"y":508},{"s":"1,7 mM Fe (II)","x":3550.5,"y":509.2},{"s":"1,7 mM Fe (II)","x":3552,"y":508.9}
    ]
  },
  "vconcat": [
    {
      "width": 826,
      "height": 635,
      "data": {"name": "top"},
      "mark": {"type": "line", "strokeWidth": 1.4, "strokeJoin": "round", "interpolate": "monotone"},
      "encoding": {
        "x": {
          "field": "x", "type": "quantitative",
          "scale": {"domain": [3475, 3560], "nice": false, "zero": false},
          "axis": {
            "title": null, "grid": false,
            "values": [3475,3480,3485,3490,3495,3500,3505,3510,3515,3520,3525,3530,3535,3540,3545,3550,3555,3560],
            "format": "d",
            "labelExpr": "datum.value % 10 === 0 ? datum.label : ''",
            "labelFont": "Liberation Serif", "labelFontSize": 25, "labelColor": "black",
            "labelPadding": 6, "labelFlush": false, "labelOverlap": false, "labelBound": false,
            "domainColor": "black", "domainWidth": 2.5,
            "tickColor": "black", "tickWidth": 2,
            "tickSize": {"condition": {"test": "datum.value % 10 === 0", "value": 13}, "value": 8}
          }
        },
        "y": {"field": "y", "type": "quantitative", "scale": {"domain": [0, 635], "nice": false, "zero": false}, "axis": null},
        "color": {
          "field": "s", "type": "nominal",
          "scale": {"domain": ["Control","0,1 mM Fe (II)","0,5 mM Fe (II)","1 mM Fe (II)","1,7 mM Fe (II)"], "range": ["#111111","#e0302a","#1f1fbf","#218a80","#e02de0"]},
          "legend": {
            "title": null, "orient": "none", "legendX": 645, "legendY": 24,
            "symbolType": "M-28,0H28", "symbolSize": 4, "symbolStrokeWidth": 1.5,
            "labelOffset": 20, "labelFont": "Liberation Serif", "labelFontSize": 24, "labelColor": "black",
            "rowPadding": 7, "padding": 0, "labelLimit": 300
          }
        }
      }
    },
    {
      "width": 827,
      "height": 718,
      "data": {"name": "bottom"},
      "mark": {"type": "line", "strokeWidth": 1.4, "strokeJoin": "round", "interpolate": "monotone"},
      "encoding": {
        "x": {
          "field": "x", "type": "quantitative",
          "scale": {"domain": [3475, 3560], "nice": false, "zero": false},
          "axis": {
            "title": null, "grid": false,
            "values": [3475,3480,3485,3490,3495,3500,3505,3510,3515,3520,3525,3530,3535,3540,3545,3550,3555,3560],
            "format": "d",
            "labelExpr": "datum.value % 10 === 0 ? datum.label : ''",
            "labelFont": "Liberation Serif", "labelFontSize": 25, "labelColor": "black",
            "labelPadding": 2, "labelFlush": false, "labelOverlap": false, "labelBound": false,
            "domainColor": "black", "domainWidth": 2.5,
            "tickColor": "black", "tickWidth": 2,
            "tickSize": {"condition": {"test": "datum.value % 10 === 0", "value": 13}, "value": 8}
          }
        },
        "y": {
          "field": "y", "type": "quantitative", "scale": {"domain": [0, 718], "nice": false, "zero": false},
          "axis": {"title": "|", "titleColor": "#ffffff", "titleFontSize": 7, "titlePadding": 0, "labels": false, "ticks": false, "domain": false, "grid": false}
        },
        "color": {
          "field": "s", "type": "nominal",
          "scale": {"domain": ["Control","0,1 mM Fe (II)","0,5 mM Fe (II)","1 mM Fe (II)","1,7 mM Fe (II)"], "range": ["#111111","#e0302a","#1f1fbf","#218a80","#e02de0"]},
          "legend": {
            "title": null, "orient": "none", "legendX": 641, "legendY": 30,
            "symbolType": "M-28,0H28", "symbolSize": 4, "symbolStrokeWidth": 1.5,
            "labelOffset": 20, "labelFont": "Liberation Serif", "labelFontSize": 24, "labelColor": "black",
            "rowPadding": 7, "padding": 0, "labelLimit": 300
          }
        }
      }
    }
  ]
}
